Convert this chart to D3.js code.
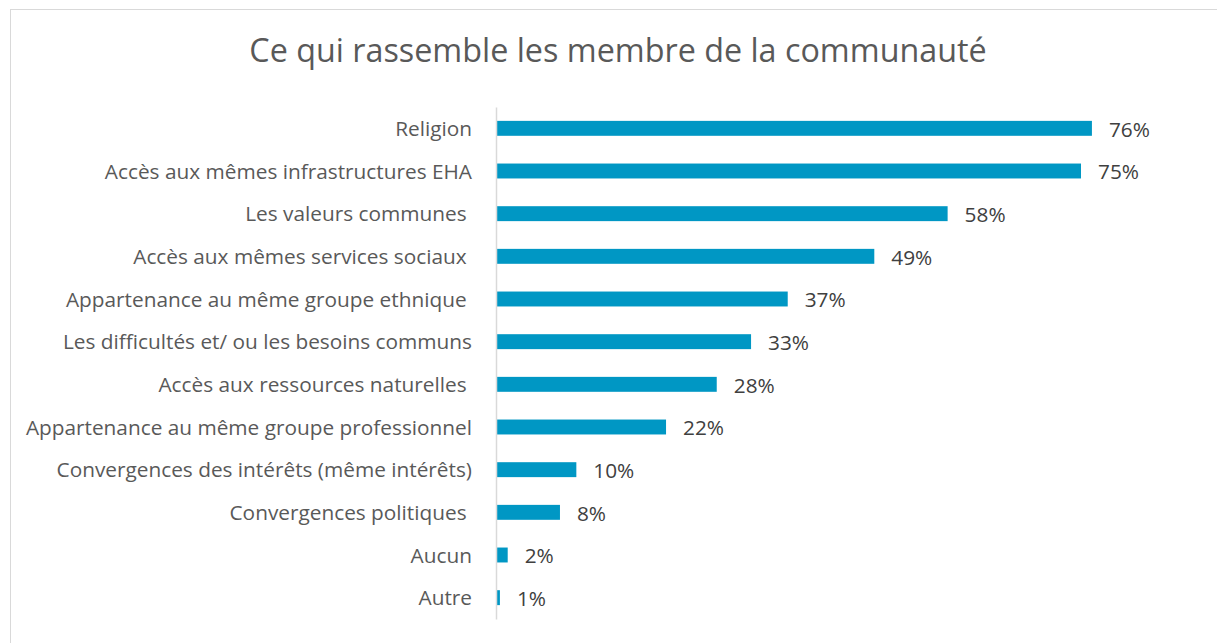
<!DOCTYPE html>
<html>
<head>
<meta charset="utf-8">
<script src="https://cdn.jsdelivr.net/npm/d3@7"></script>
<style>
  body { margin: 0; background: #fff; }
  svg { display: block; }
  text { white-space: pre; }
</style>
</head>
<body>
<script>
// data
var categories = [
  "Religion",
  "Accès aux mêmes infrastructures EHA",
  "Les valeurs communes ",
  "Accès aux mêmes services sociaux ",
  "Appartenance au même groupe ethnique ",
  "Les difficultés et/ ou les besoins communs",
  "Accès aux ressources naturelles ",
  "Appartenance au même groupe professionnel",
  "Convergences des intérêts (même intérêts)",
  "Convergences politiques ",
  "Aucun",
  "Autre"
];
var percents = [76.4, 75.0, 57.9, 48.5, 37.4, 32.7, 28.3, 21.8, 10.3, 8.2, 1.5, 0.5];

var width = 1217, height = 643;
var axisX = 496;

var svg = d3.select('body')
  .append('svg')
  .attr('width', width)
  .attr('height', height);

// chart frame
svg.append('rect')
  .attr('x', 10.5)
  .attr('y', 9.5)
  .attr('width', width + 20)
  .attr('height', height + 20)
  .attr('fill', '#fff')
  .attr('stroke', '#d9d9d9')
  .attr('stroke-width', 1);

// title
svg.append('text')
  .attr('x', 618)
  .attr('y', 62)
  .attr('text-anchor', 'middle')
  .attr('font-family', 'Open Sans, sans-serif')
  .attr('font-size', 32.3)
  .attr('fill', '#595959')
  .text('Ce qui rassemble les membre de la communauté');

var xScale = d3.scaleLinear()
  .domain([0, 80])
  .range([axisX, axisX + 624]);

var yScale = d3.scaleBand()
  .domain(categories)
  .range([107, 619])
  .paddingInner(0.65)
  .paddingOuter(0.325);

// bars
svg.append('g')
  .selectAll('rect')
  .data(percents)
  .enter()
  .append('rect')
  .each(function(d, i) {
    d3.select(this)
      .attr('x', xScale(0))
      .attr('y', yScale(categories[i]))
      .attr('width', xScale(d) - xScale(0))
      .attr('height', yScale.bandwidth())
      .attr('fill', '#0097c4');
  });

// value labels
svg.append('g')
  .selectAll('text')
  .data(percents)
  .enter()
  .append('text')
  .attr('x', function(d) { return xScale(d) + 17; })
  .attr('y', function(d, i) { return yScale(categories[i]) + yScale.bandwidth() / 2 + 1; })
  .attr('dy', '0.35em')
  .attr('font-family', 'Open Sans, sans-serif')
  .attr('font-size', 20.8)
  .attr('fill', '#404040')
  .text(function(d) { return Math.round(d) + '%'; });

// category axis
var yAxis = d3.axisLeft(yScale).tickSize(0).tickPadding(24);
var yAxisNodes = svg.append('g')
  .attr('transform', 'translate(' + axisX + ',0)')
  .call(yAxis);
yAxisNodes.select('.domain')
  .attr('stroke', '#d9d9d9')
  .attr('stroke-width', 1.5);
yAxisNodes.selectAll('.tick text')
  .attr('font-family', 'Open Sans, sans-serif')
  .attr('font-size', 20.8)
  .attr('fill', '#595959')
  .attr('y', 1);
</script>
</body>
</html>
